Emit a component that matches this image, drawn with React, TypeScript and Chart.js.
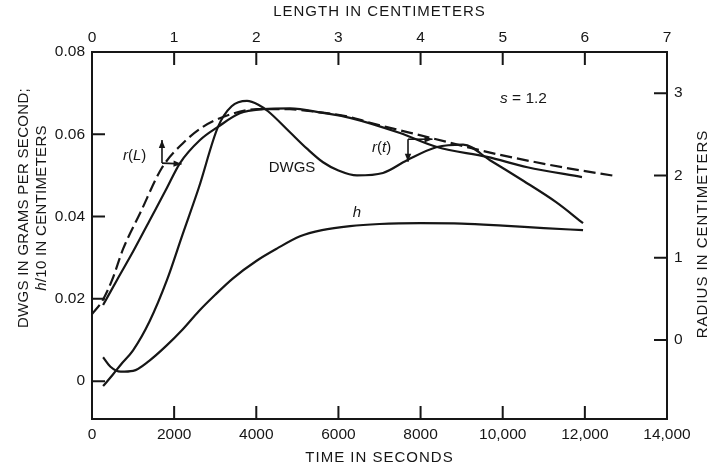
import React, { useEffect, useRef } from "react";
import { Chart, registerables } from "chart.js";

Chart.register(...registerables);

// ---------- tick values ----------
const timeTicks = [0, 2000, 4000, 6000, 8000, 10000, 12000, 14000];
const lengthTicks = [0, 1, 2, 3, 4, 5, 6, 7];
const leftTicks = [0, 0.02, 0.04, 0.06, 0.08];
const rightTicks = [0, 1, 2, 3];

// ---------- series ----------
// DWGS (g/s) vs time (s)
const dwgsTime = [270, 500, 700, 1000, 1400, 1826, 2200, 2600, 3068, 3400, 3774, 4050, 4286, 4820, 5235, 5625, 6000, 6452, 7085, 7670, 8400, 9034, 9690, 10500, 11300, 11956];
const dwgsValue = [-0.0012, 0.0015, 0.004, 0.0075, 0.0145, 0.0246, 0.0355, 0.047, 0.0618, 0.0668, 0.0681, 0.0672, 0.0656, 0.0605, 0.0565, 0.0532, 0.0512, 0.05, 0.0506, 0.0537, 0.0569, 0.0575, 0.0537, 0.0487, 0.0435, 0.0384];

// h/10 (cm) vs time (s)
const hTime = [270, 450, 700, 1000, 1400, 1800, 2200, 2600, 3000, 3433, 4000, 4500, 5065, 5600, 6282, 7000, 8000, 9000, 10000, 11000, 11956];
const hValue = [0.0058, 0.0035, 0.0023, 0.0025, 0.005, 0.0085, 0.0125, 0.017, 0.021, 0.025, 0.0292, 0.0322, 0.0352, 0.0367, 0.0377, 0.0382, 0.0384, 0.0383, 0.0378, 0.0372, 0.0367];

// r(t) solid, plotted on the left scale (radius = (value - 0.01) / 0.02)
const rtTime = [270, 609, 1000, 1400, 1800, 2143, 2630, 3068, 3600, 4165, 4820, 5625, 6282, 7500, 8400, 9620, 10600, 11930];
const rtValue = [0.0185, 0.0246, 0.0315, 0.039, 0.0465, 0.053, 0.0586, 0.0618, 0.0651, 0.0661, 0.0663, 0.0652, 0.064, 0.0603, 0.0569, 0.0545, 0.052, 0.0496];

// r(L) dashed
const rlTime = [0, 250, 490, 760, 1170, 1700, 2220, 2700, 3190, 4020, 4820, 5065, 6280, 6700, 8300, 9130, 9935, 11560, 12780];
const rlValue = [0.0163, 0.0195, 0.0246, 0.0322, 0.0408, 0.0518, 0.0579, 0.0618, 0.0642, 0.0661, 0.0661, 0.0659, 0.0642, 0.063, 0.059, 0.0569, 0.055, 0.0518, 0.0498];

const INK = "#161616";
const FONT = '"Liberation Sans", Arial, Helvetica, sans-serif';

const pts = (xs: number[], ys: number[]) => xs.map((x, i) => ({ x, y: ys[i] }));

type Part = [string, boolean];

function drawRich(ctx: CanvasRenderingContext2D, parts: Part[], x: number, y: number, size: number, align: "left" | "center") {
  const widths = parts.map(([t, it]) => {
    ctx.font = `${it ? "italic " : ""}${size}px ${FONT}`;
    return ctx.measureText(t).width;
  });
  const total = widths.reduce((a, b) => a + b, 0);
  let cx = align === "center" ? x - total / 2 : x;
  ctx.textAlign = "left";
  ctx.textBaseline = "middle";
  parts.forEach(([t, it], i) => {
    ctx.font = `${it ? "italic " : ""}${size}px ${FONT}`;
    ctx.fillText(t, cx, y);
    cx += widths[i];
  });
}

function arrow(ctx: CanvasRenderingContext2D, x1: number, y1: number, x2: number, y2: number) {
  ctx.beginPath();
  ctx.moveTo(x1, y1);
  ctx.lineTo(x2, y2);
  ctx.stroke();
  const ang = Math.atan2(y2 - y1, x2 - x1);
  const L = 8, W = 3.2;
  ctx.beginPath();
  ctx.moveTo(x2, y2);
  ctx.lineTo(x2 - L * Math.cos(ang) + W * Math.sin(ang), y2 - L * Math.sin(ang) - W * Math.cos(ang));
  ctx.lineTo(x2 - L * Math.cos(ang) - W * Math.sin(ang), y2 - L * Math.sin(ang) + W * Math.cos(ang));
  ctx.closePath();
  ctx.fill();
}

const decor = {
  id: "decor",
  afterDatasetsDraw(chart: any) {
    const { ctx, chartArea: a, scales } = chart;
    const X = (v: number) => scales.x.getPixelForValue(v);
    const Y = (v: number) => scales.y.getPixelForValue(v);
    ctx.save();
    ctx.strokeStyle = INK;
    ctx.fillStyle = INK;
    ctx.lineWidth = 2;
    ctx.strokeRect(a.left, a.top, a.right - a.left, a.bottom - a.top);
    const TL = 13;
    ctx.beginPath();
    timeTicks.forEach((v) => { const x = X(v); ctx.moveTo(x, a.bottom); ctx.lineTo(x, a.bottom - TL); });
    lengthTicks.forEach((v) => { const x = scales.x2.getPixelForValue(v); ctx.moveTo(x, a.top); ctx.lineTo(x, a.top + TL); });
    leftTicks.forEach((v) => { const y = Y(v); ctx.moveTo(a.left, y); ctx.lineTo(a.left + TL, y); });
    rightTicks.forEach((v) => { const y = scales.y2.getPixelForValue(v); ctx.moveTo(a.right, y); ctx.lineTo(a.right - TL, y); });
    ctx.stroke();

    // annotations
    ctx.lineWidth = 1.6;
    drawRich(ctx, [["r", true], ["(", false], ["L", true], [")", false]], X(755), Y(0.0547), 15, "left");
    arrow(ctx, X(1704), Y(0.053), X(1704), Y(0.0586));
    arrow(ctx, X(1704), Y(0.053), X(2180), Y(0.0528));
    drawRich(ctx, [["DWGS", false]], X(4870), Y(0.0518), 15, "center");
    drawRich(ctx, [["r", true], ["(", false], ["t", true], [")", false]], X(6817), Y(0.0567), 15, "left");
    arrow(ctx, X(7694), Y(0.0588), X(7694), Y(0.0533));
    arrow(ctx, X(7694), Y(0.0588), X(8290), Y(0.0588));
    drawRich(ctx, [["h", true]], X(6452), Y(0.0408), 15, "center");
    drawRich(ctx, [["s", true], [" = 1.2", false]], X(9934), Y(0.0686), 15.5, "left");

    // axis titles
    (ctx as any).letterSpacing = "1px";
    drawRich(ctx, [["LENGTH IN CENTIMETERS", false]], (a.left + a.right) / 2, 12, 15, "center");
    drawRich(ctx, [["TIME IN SECONDS", false]], (a.left + a.right) / 2, 458, 15, "center");
    ctx.save();
    ctx.translate(703, 234);
    ctx.rotate(-Math.PI / 2);
    drawRich(ctx, [["RADIUS IN CENTIMETERS", false]], 0, 0, 15, "center");
    ctx.restore();
    (ctx as any).letterSpacing = "0.3px";

    ctx.save();
    ctx.translate(24, 208);
    ctx.rotate(-Math.PI / 2);
    drawRich(ctx, [["DWGS IN GRAMS PER SECOND;", false]], 0, 0, 15, "center");
    ctx.restore();
    ctx.save();
    ctx.translate(42, 208);
    ctx.rotate(-Math.PI / 2);
    drawRich(ctx, [["h", true], ["/10 IN CENTIMETERS", false]], 0, 0, 15, "center");
    ctx.restore();
    (ctx as any).letterSpacing = "0px";
    ctx.restore();
  },
};

export default function App() {
  const ref = useRef<HTMLCanvasElement | null>(null);
  useEffect(() => {
    if (!ref.current) return;
    const line = (data: any[], dashed = false) => ({
      data,
      borderColor: INK,
      borderWidth: 2.2,
      borderDash: dashed ? [12, 5] : [],
      pointRadius: 0,
      fill: false,
      cubicInterpolationMode: "monotone" as const,
      xAxisID: "x",
      yAxisID: "y",
    });
    const tickFont = { family: FONT, size: 15.5 };
    const chart = new Chart(ref.current, {
      type: "line",
      data: {
        datasets: [
          line(pts(dwgsTime, dwgsValue)),
          line(pts(hTime, hValue)),
          line(pts(rtTime, rtValue)),
          line(pts(rlTime, rlValue), true),
        ],
      },
      options: {
        animation: false,
        responsive: false,
        devicePixelRatio: 1,
        parsing: false,
        layout: { padding: 0 },
        plugins: { legend: { display: false }, tooltip: { enabled: false }, title: { display: false } },
        scales: {
          x: {
            type: "linear",
            position: "bottom",
            min: 0,
            max: 14000,
            grid: { display: false, drawTicks: false },
            border: { display: false },
            afterBuildTicks: (s: any) => { s.ticks = timeTicks.map((value) => ({ value })); },
            afterFit: (s: any) => { s.height = 53; },
            ticks: {
              color: INK,
              font: tickFont,
              padding: 6,
              maxRotation: 0,
              autoSkip: false,
              callback: (v: any) => (v >= 10000 ? Number(v).toLocaleString("en-US") : String(v)),
            },
          },
          x2: {
            type: "linear",
            position: "top",
            min: 0,
            max: 7,
            grid: { display: false, drawTicks: false },
            border: { display: false },
            afterBuildTicks: (s: any) => { s.ticks = lengthTicks.map((value) => ({ value })); },
            afterFit: (s: any) => { s.height = 52; },
            ticks: { color: INK, font: tickFont, padding: 5, maxRotation: 0, autoSkip: false },
          },
          y: {
            type: "linear",
            position: "left",
            min: -0.0092,
            max: 0.08,
            grid: { display: false, drawTicks: false },
            border: { display: false },
            afterBuildTicks: (s: any) => { s.ticks = leftTicks.map((value) => ({ value })); },
            afterFit: (s: any) => { s.width = 92; },
            ticks: {
              color: INK,
              font: tickFont,
              padding: 7,
              autoSkip: false,
              callback: (v: any) => (v === 0 ? "0" : Number(v).toFixed(2)),
            },
          },
          y2: {
            type: "linear",
            position: "right",
            min: -0.96,
            max: 3.5,
            grid: { display: false, drawTicks: false },
            border: { display: false },
            afterBuildTicks: (s: any) => { s.ticks = rightTicks.map((value) => ({ value })); },
            afterFit: (s: any) => { s.width = 44; },
            ticks: { color: INK, font: tickFont, padding: 7, autoSkip: false },
          },
        },
      },
      plugins: [decor],
    });
    return () => chart.destroy();
  }, []);
  return (
    <div style={{ position: "absolute", left: 0, top: 0, width: 711, height: 472, background: "#fff" }}>
      <canvas ref={ref} width={711} height={472} />
    </div>
  );
}
